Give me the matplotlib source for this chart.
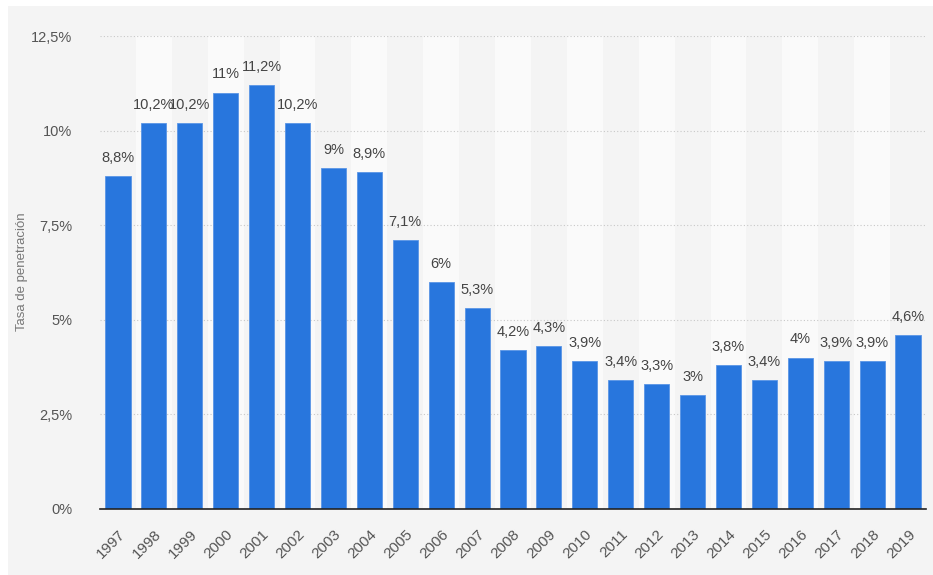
import matplotlib
matplotlib.use("Agg")
import matplotlib.pyplot as plt
from matplotlib.patches import Rectangle

years = ["1997", "1998", "1999", "2000", "2001", "2002", "2003", "2004", "2005", "2006",
         "2007", "2008", "2009", "2010", "2011", "2012", "2013", "2014", "2015", "2016",
         "2017", "2018", "2019"]
values = [8.8, 10.2, 10.2, 11, 11.2, 10.2, 9, 8.9, 7.1, 6, 5.3, 4.2, 4.3, 3.9, 3.4,
          3.3, 3, 3.8, 3.4, 4, 3.9, 3.9, 4.6]
yticks = [0, 2.5, 5, 7.5, 10, 12.5]
ytick_labels = ["0%", "2,5%", "5%", "7,5%", "10%", "12,5%"]
ylabel = "Tasa de penetración"

plt.rcParams['font.family'] = ['Liberation Sans', 'DejaVu Sans']

W, H = 933, 575
fig = plt.figure(figsize=(W / 100, H / 100), dpi=100)
fig.patch.set_facecolor("white")
bg = Rectangle((8 / W, 0), 1 - 8 / W, 1 - 6 / H, transform=fig.transFigure,
               facecolor="#f4f4f4", edgecolor="none", zorder=-10)
fig.add_artist(bg)

left, right, top, bottom = 100, 926, 36, 509
ax = fig.add_axes([left / W, 1 - bottom / H, (right - left) / W, (bottom - top) / H])
ax.set_facecolor("#f4f4f4")
ax.set_zorder(1)

n = len(years)
x = list(range(n))
for i in x:
    if i % 2 == 1:
        ax.axvspan(i - 0.5, i + 0.5, color="#fafafa", zorder=0, lw=0)

bars = ax.bar(x, values, width=0.7, color="#2876dd", edgecolor="#5a95e6", linewidth=0.6, zorder=3)
for xi, v in zip(x, values):
    txt = (f"{v:g}").replace(".", ",") + "%"
    ax.text(xi, v + 0.3, txt, ha="center", va="bottom", fontsize=10.5, color="#444444", zorder=4)

ax.set_xlim(-0.5, n - 0.5)
ax.set_ylim(0, 12.5)
ax.set_yticks(yticks)
ax.set_yticklabels(ytick_labels, fontsize=10.5, color="#555555")
ax.set_xticks(x)
ax.set_xticklabels(years, rotation=45, ha="right", va="top", rotation_mode="anchor",
                   fontsize=11, color="#555555")
ax.tick_params(axis="both", length=0)
ax.tick_params(axis="y", pad=20)
ax.tick_params(axis="x", pad=13)
ax.yaxis.grid(True, linestyle=(0, (1, 2)), color="#c8c8c8", linewidth=0.8, zorder=1)
ax.set_axisbelow(True)
for s in ["left", "right", "top"]:
    ax.spines[s].set_visible(False)
ax.spines["bottom"].set_color("#222222")
ax.spines["bottom"].set_linewidth(1.2)
ax.spines["bottom"].set_zorder(5)

fig.text(22 / W, 1 - 272 / H, ylabel, rotation=90, ha="center", va="center",
         fontsize=9.5, color="#777777", zorder=2)

fig.savefig("out.png", dpi=100)
